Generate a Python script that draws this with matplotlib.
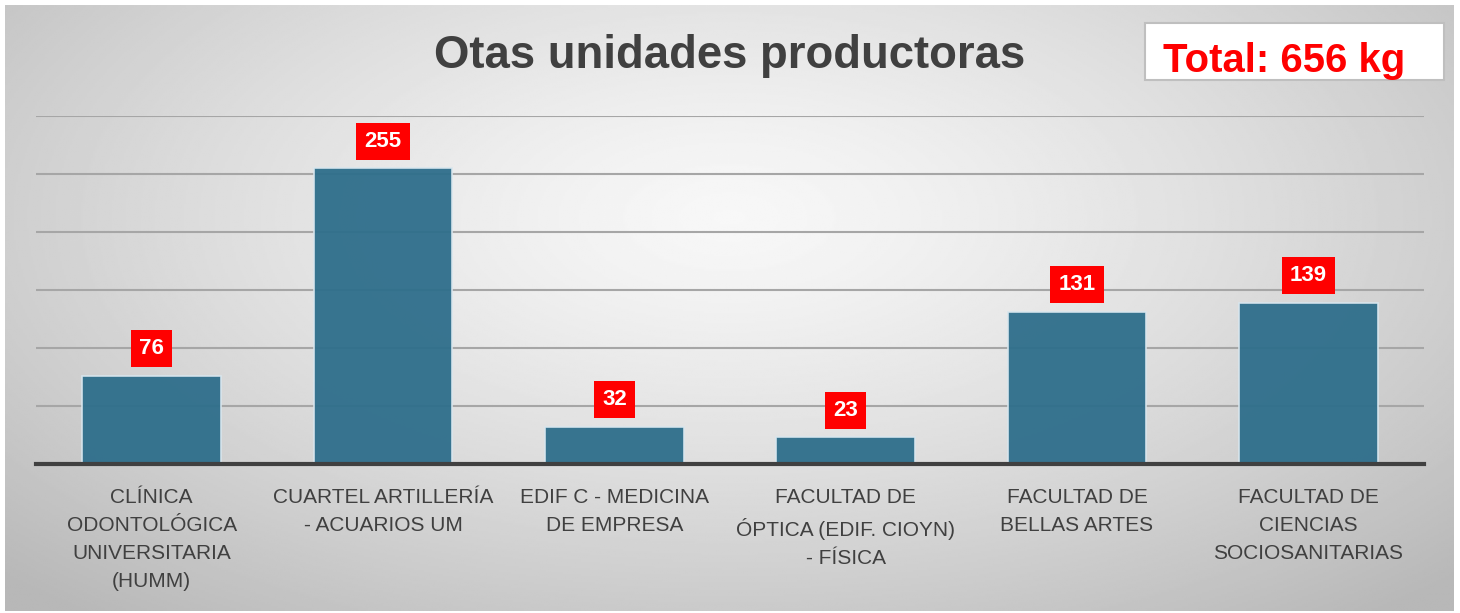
#!/usr/bin/env python3
"""
Bar chart: other producing units (kg).
"""

import matplotlib

matplotlib.use("Agg")
import matplotlib.pyplot as plt
import numpy as np
from matplotlib.patches import Rectangle

categories = [
    "CLÍNICA\nODONTOLÓGICA\nUNIVERSITARIA\n(HUMM)",
    "CUARTEL ARTILLERÍA\n- ACUARIOS UM",
    "EDIF C - MEDICINA\nDE EMPRESA",
    "FACULTAD DE\nÓPTICA (EDIF. CIOYN)\n- FÍSICA",
    "FACULTAD DE\nBELLAS ARTES",
    "FACULTAD DE\nCIENCIAS\nSOCIOSANITARIAS",
]
values = [76, 255, 32, 23, 131, 139]
title = "Otas unidades productoras"
total_label = "Total: 656 kg"

W, H = 1460, 613
plt.rcParams["font.family"] = ["Liberation Sans", "DejaVu Sans"]

fig = plt.figure(figsize=(W / 100, H / 100), dpi=100)

# radial gradient background inside a thin frame
bg = fig.add_axes([5 / W, 1 - 611 / H, 1449 / W, 606 / H])
yy, xx = np.mgrid[0:1:300j, 0:1:700j]
dist = np.sqrt(((xx - 0.5) / 0.75) ** 2 + ((yy - 0.35) / 0.9) ** 2)
shade = np.clip(0.97 - 0.27 * dist ** 1.3, 0.72, 0.97)
bg.imshow(shade, cmap="gray", vmin=0, vmax=1, aspect="auto",
          extent=[0, 1, 0, 1], origin="upper")
bg.set_axis_off()

ax = fig.add_axes([36 / W, 1 - 464 / H, 1388 / W, 348 / H])
ax.patch.set_alpha(0)
x = np.arange(len(values))
ax.bar(x, values, width=0.6, color="#2e6e8b", edgecolor="#d8e6ee",
       linewidth=1.2, alpha=0.95, zorder=3)
ax.set_xlim(-0.5, len(values) - 0.5)
ax.set_ylim(0, 300)
ax.set_yticks(np.arange(50, 301, 50))
ax.yaxis.grid(True, color="#a6a6a6", linewidth=1.5, zorder=0)
ax.tick_params(left=False, labelleft=False, bottom=False)
ax.set_xticks(x, categories)
for lbl in ax.get_xticklabels():
    lbl.set_fontsize(15)
    lbl.set_color("#404040")
    lbl.set_linespacing(1.6)
ax.tick_params(axis="x", pad=14)
for side in ("left", "right", "top"):
    ax.spines[side].set_visible(False)
ax.spines["bottom"].set_color("#404040")
ax.spines["bottom"].set_linewidth(3)
ax.spines["bottom"].set_zorder(4)

for xi, v in zip(x, values):
    ax.annotate(str(v), (xi, v), xytext=(0, 19.5), textcoords="offset points",
                ha="center", va="center", fontsize=16, fontweight="bold",
                color="white", zorder=5,
                bbox=dict(boxstyle="square,pad=0.36", fc="#ff0000", ec="none"))

fig.text(730 / W, 1 - 56 / H, title, ha="center", va="center",
         fontsize=32.8, fontweight="bold", color="#404040")

fig.patches.append(Rectangle((1145 / W, 1 - 80 / H), 299 / W, 57 / H,
                             transform=fig.transFigure, fc="white",
                             ec="#bfbfbf", lw=1.5, zorder=5))
fig.text(1284 / W, 1 - 61 / H, total_label, ha="center", va="center",
         fontsize=28.9, fontweight="bold", color="#ff0000", zorder=6)

fig.savefig("out.png", dpi=100)
